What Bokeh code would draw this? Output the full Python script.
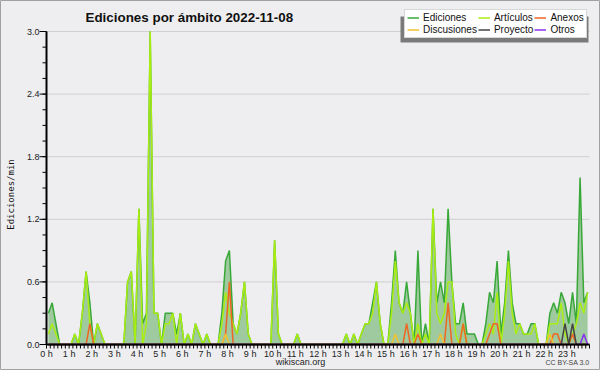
import math
from bokeh.plotting import figure
from bokeh.models import Range1d, Label, Legend, LegendItem, BoxAnnotation
from bokeh.core.properties import value
from bokeh.embed import file_html
from bokeh.resources import INLINE

title_text = "Ediciones por ámbito  2022-11-08"
y_label = "Ediciones/min"
hour_ticks = list(range(24))
hour_labels = [f"{h} h" for h in hour_ticks]
y_ticks = [0.0, 0.6, 1.2, 1.8, 2.4, 3.0]
y_tick_labels = ["0.0", "0.6", "1.2", "1.8", "2.4", "3.0"]
x_minor = [i / 6 for i in range(145)]
y_minor = [i * 0.15 for i in range(21)]
x_min, x_max = 0, 24
y_min, y_max = 0.0, 3.0

# edits per minute, 10-minute buckets (6 per hour)
ediciones = [
    0.3, 0.4, 0.2, 0, 0, 0,
    0, 0.1, 0, 0.3, 0.7, 0.4,
    0, 0.2, 0.1, 0, 0, 0,
    0, 0, 0, 0.6, 0.7, 0,
    1.3, 0.2, 0.3, 3.0, 0.3, 0.3,
    0, 0.3, 0.3, 0.3, 0.1, 0.3,
    0, 0.1, 0, 0.2, 0.1, 0,
    0.1, 0, 0, 0, 0.3, 0.8,
    0.9, 0.2, 0.1, 0.3, 0.6, 0.1,
    0, 0, 0, 0, 0, 0,
    1.0, 0.1, 0, 0, 0, 0,
    0.1, 0, 0, 0, 0, 0,
    0, 0, 0, 0, 0, 0,
    0, 0.1, 0, 0.1, 0, 0.1,
    0.2, 0.2, 0.4, 0.6, 0.2, 0,
    0, 0.4, 0.9, 0.4, 0.3, 0.6,
    0.3, 0, 0.9, 0, 0.2, 0,
    1.3, 0.4, 0.6, 0.4, 1.3, 0.6,
    0.2, 0.2, 0.4, 0.1, 0.1, 0.1,
    0, 0, 0.2, 0.5, 0.4, 0.8,
    0.1, 0.4, 0.9, 0.4, 0.2, 0.2,
    0.1, 0.1, 0.2, 0.2, 0, 0,
    0, 0.3, 0.4, 0.3, 0.5, 0.4,
    0.2, 0.5, 0.2, 1.6, 0.4, 0.5,
]
articulos = [
    0.1, 0.2, 0.1, 0, 0, 0,
    0, 0.1, 0, 0.3, 0.7, 0.2,
    0, 0.2, 0.1, 0, 0, 0,
    0, 0, 0, 0.6, 0.7, 0,
    1.3, 0, 0.2, 3.0, 0.3, 0.3,
    0, 0.2, 0.2, 0.3, 0, 0.3,
    0, 0.1, 0, 0.2, 0.1, 0,
    0.1, 0, 0, 0, 0.2, 0.5,
    0.3, 0.2, 0.1, 0.3, 0.6, 0.1,
    0, 0, 0, 0, 0, 0,
    1.0, 0.1, 0, 0, 0, 0,
    0.1, 0, 0, 0, 0, 0,
    0, 0, 0, 0, 0, 0,
    0, 0.1, 0, 0.1, 0, 0.1,
    0.2, 0.2, 0.3, 0.6, 0.2, 0,
    0, 0.3, 0.8, 0.4, 0.3, 0.4,
    0.3, 0, 0.2, 0, 0.1, 0,
    1.3, 0.3, 0.2, 0.3, 0.6, 0.6,
    0.1, 0, 0.2, 0, 0, 0,
    0, 0, 0.1, 0.2, 0.1, 0.5,
    0, 0.3, 0.8, 0.3, 0.1, 0.2,
    0.1, 0.1, 0.1, 0.2, 0, 0,
    0, 0.2, 0.2, 0.2, 0.4, 0.1,
    0, 0.1, 0.2, 0.4, 0.3, 0.5,
]
anexos = [
    0, 0, 0, 0, 0, 0,
    0, 0, 0, 0, 0, 0.2,
    0, 0, 0, 0, 0, 0,
    0, 0, 0, 0, 0, 0,
    0, 0, 0, 0, 0, 0,
    0, 0, 0, 0, 0, 0,
    0, 0, 0, 0, 0, 0,
    0, 0, 0, 0, 0, 0.1,
    0.6, 0, 0, 0, 0, 0,
    0, 0, 0, 0, 0, 0,
    0, 0, 0, 0, 0, 0,
    0, 0, 0, 0, 0, 0,
    0, 0, 0, 0, 0, 0,
    0, 0, 0, 0, 0, 0,
    0, 0, 0, 0, 0, 0,
    0, 0, 0, 0, 0, 0.2,
    0, 0, 0.1, 0, 0, 0,
    0, 0, 0, 0, 0.4, 0,
    0, 0, 0.2, 0, 0, 0,
    0, 0, 0, 0.1, 0.2, 0.2,
    0, 0, 0, 0, 0, 0,
    0, 0, 0, 0, 0, 0,
    0, 0, 0.1, 0.1, 0, 0,
    0, 0.1, 0, 0, 0, 0,
]
discusiones = [
    0, 0, 0, 0, 0, 0,
    0, 0, 0, 0, 0, 0,
    0, 0, 0, 0, 0, 0,
    0, 0, 0, 0, 0, 0,
    0, 0, 0, 0, 0, 0,
    0, 0, 0, 0, 0, 0,
    0, 0, 0, 0, 0, 0,
    0, 0, 0, 0, 0, 0.1,
    0, 0, 0, 0, 0, 0,
    0, 0, 0, 0, 0, 0,
    0, 0, 0, 0, 0, 0,
    0, 0, 0, 0, 0, 0,
    0, 0, 0, 0, 0, 0,
    0, 0, 0, 0, 0, 0,
    0, 0, 0, 0, 0, 0,
    0, 0, 0.1, 0, 0, 0,
    0, 0, 0, 0, 0, 0,
    0, 0, 0.1, 0, 0, 0,
    0, 0, 0, 0, 0, 0,
    0, 0, 0, 0, 0, 0,
    0, 0, 0, 0, 0, 0,
    0, 0, 0, 0, 0, 0,
    0, 0.1, 0, 0, 0, 0,
    0, 0, 0, 0, 0, 0,
]
proyecto = [
    0, 0, 0, 0, 0, 0,
    0, 0, 0, 0, 0, 0,
    0, 0, 0, 0, 0, 0,
    0, 0, 0, 0, 0, 0,
    0, 0, 0, 0, 0, 0,
    0, 0, 0, 0, 0, 0,
    0, 0, 0, 0, 0, 0,
    0, 0, 0, 0, 0, 0,
    0, 0, 0, 0, 0, 0,
    0, 0, 0, 0, 0, 0,
    0, 0, 0, 0, 0, 0,
    0, 0, 0, 0, 0, 0,
    0, 0, 0, 0, 0, 0,
    0, 0, 0, 0, 0, 0,
    0, 0, 0, 0, 0, 0,
    0, 0, 0, 0, 0, 0,
    0, 0, 0, 0, 0, 0,
    0, 0, 0, 0, 0, 0,
    0, 0, 0, 0, 0, 0,
    0, 0, 0, 0, 0, 0,
    0, 0, 0, 0, 0, 0,
    0, 0, 0, 0, 0, 0,
    0, 0, 0, 0, 0, 0.2,
    0, 0.2, 0, 0, 0, 0,
]
otros = [
    0, 0, 0, 0, 0, 0,
    0, 0, 0, 0, 0, 0,
    0, 0, 0, 0, 0, 0,
    0, 0, 0, 0, 0, 0,
    0, 0, 0, 0, 0, 0,
    0, 0, 0, 0, 0, 0,
    0, 0, 0, 0, 0, 0,
    0, 0, 0, 0, 0, 0,
    0, 0, 0, 0, 0, 0,
    0, 0, 0, 0, 0, 0,
    0, 0, 0, 0, 0, 0,
    0, 0, 0, 0, 0, 0,
    0, 0, 0, 0, 0, 0,
    0, 0, 0, 0, 0, 0,
    0, 0, 0, 0, 0, 0,
    0, 0, 0, 0, 0, 0,
    0, 0, 0, 0, 0, 0,
    0, 0, 0, 0, 0, 0,
    0, 0, 0, 0, 0, 0,
    0, 0, 0, 0, 0, 0,
    0, 0, 0, 0, 0, 0,
    0, 0, 0, 0, 0, 0,
    0, 0, 0, 0, 0, 0,
    0, 0, 0, 0, 0.1, 0,
]

# bucket centres in hours
hours = [(i + 0.5) / 6 for i in range(len(ediciones))]

# ---- layout (pixels inside the canvas) ----
FONT = "Liberation Sans"
W, H = 600, 370
PL, PR = 46, 589      # plot area left/right
PT, PB = 31, 344      # plot area top/bottom
sx = (PR - PL) / (x_max - x_min)
sy = (PB - PT) / (y_max - y_min)
x_range = Range1d(x_min - PL / sx, x_max + (W - PR) / sx)
y_range = Range1d(y_min - (H - PB) / sy, y_max + PT / sy)

BG = "#eeeef0"
p = figure(width=W, height=H, output_backend="svg", toolbar_location=None,
           x_range=x_range, y_range=y_range,
           x_axis_location=None, y_axis_location=None,
           min_border=0, min_border_left=0, min_border_right=0,
           min_border_top=0, min_border_bottom=0)
p.title = None
p.grid.visible = False
p.background_fill_color = BG
p.border_fill_color = BG
p.outline_line_color = "#a0a0a0"

# grid lines
p.segment(x0=[x_min] * 5, y0=y_ticks[1:], x1=[x_max] * 5, y1=y_ticks[1:],
          line_color="#cfcfcf", line_width=1)

# series
p.varea(x=hours, y1=0, y2=ediciones, fill_color="#9fc99f", fill_alpha=1.0)
r_ed = p.line(hours, ediciones, line_color="#38a838", line_width=1.5)
r_art = p.line(hours, articulos, line_color="#aaee11", line_width=1.5)
r_anx = p.line(hours, anexos, line_color="#ee6622", line_width=1.5)
r_dis = p.line(hours, discusiones, line_color="#f2c230", line_width=1.5)
r_pro = p.line(hours, proyecto, line_color="#444444", line_width=1.5)
r_otr = p.line(hours, otros, line_color="#8833ee", line_width=1.5)

# axes drawn from the tick arrays
p.ray(x=x_minor, y=[y_min] * len(x_minor), length=4, angle=-math.pi / 2,
      length_units="screen", line_color="#000000", line_width=1)
p.ray(x=[x_min] * len(y_minor), y=y_minor, length=4, angle=math.pi,
      length_units="screen", line_color="#000000", line_width=1)
p.ray(x=[x_min] * len(y_ticks), y=y_ticks, length=7, angle=math.pi,
      length_units="screen", line_color="#000000", line_width=1)
p.segment(x0=[x_min], y0=[y_min], x1=[x_max], y1=[y_min], line_color="#000000", line_width=2)
p.segment(x0=[x_min], y0=[y_min], x1=[x_min], y1=[y_max], line_color="#000000", line_width=2)
p.text(x=hour_ticks, y=[y_min] * 24, text=hour_labels, y_offset=4,
       text_align="center", text_baseline="top", text_font=value(FONT),
       text_font_size="9px", text_color="#222222")
p.text(x=[x_min] * len(y_ticks), y=y_ticks, text=y_tick_labels, x_offset=-7,
       text_align="right", text_baseline="middle", text_font=value(FONT),
       text_font_size="9px", text_color="#222222")

# legend with shadow (screen units from canvas bottom-left)
LX, LY = 404, 332
p.add_layout(BoxAnnotation(left=LX - 4, right=LX + 184, top=LY + 22, bottom=LY - 4,
                           left_units="screen", right_units="screen",
                           top_units="screen", bottom_units="screen",
                           fill_color="#7a7a7a", fill_alpha=1.0, line_color=None))
legend = Legend(items=[
    LegendItem(label="Ediciones", renderers=[r_ed]),
    LegendItem(label="Artículos", renderers=[r_art]),
    LegendItem(label="Anexos", renderers=[r_anx]),
    LegendItem(label="Discusiones", renderers=[r_dis]),
    LegendItem(label="Proyecto", renderers=[r_pro]),
    LegendItem(label="Otros", renderers=[r_otr]),
], location=(LX, LY), orientation="horizontal", ncols=3,
    glyph_width=12, glyph_height=9, label_height=9, label_width=10,
    label_standoff=4, spacing=1, padding=2, margin=0,
    label_text_font=FONT, label_text_font_size="10px", label_text_color="#111111",
    border_line_color="#b0b0b0", background_fill_color="#ffffff",
    background_fill_alpha=1.0)
p.add_layout(legend, "center")

# texts
p.add_layout(Label(x=85, y=H - 17, x_units="screen", y_units="screen", text=title_text,
                   text_font=FONT, text_font_size="13.4px", text_font_style="bold",
                   text_baseline="middle", text_align="left", text_color="#111111"))
p.add_layout(Label(x=10, y=H - 194, x_units="screen", y_units="screen", text=y_label,
                   angle=90, angle_units="deg", text_font="DejaVu Sans Mono",
                   text_font_size="9px", text_baseline="middle", text_align="center",
                   text_color="#111111"))
p.add_layout(Label(x=300, y=H - 361, x_units="screen", y_units="screen", text="wikiscan.org",
                   text_font=FONT, text_font_size="9px", text_baseline="middle",
                   text_align="center", text_color="#222222"))
p.add_layout(Label(x=PR, y=H - 362, x_units="screen", y_units="screen", text="CC BY-SA 3.0",
                   text_font=FONT, text_font_size="7px", text_baseline="middle",
                   text_align="right", text_color="#444444"))

open("out.html", "w").write(file_html(p, INLINE))
